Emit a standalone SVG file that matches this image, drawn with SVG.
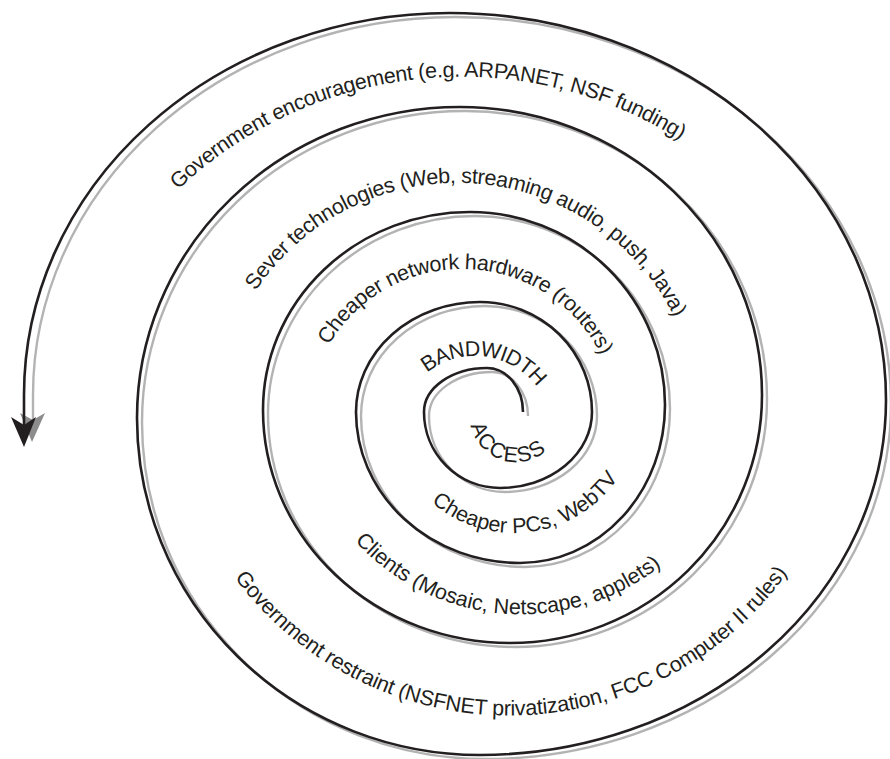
<svg xmlns="http://www.w3.org/2000/svg" xmlns:xlink="http://www.w3.org/1999/xlink" width="890" height="759" viewBox="0 0 890 759">
<style>
.blk{fill:none;stroke:#231f20;stroke-width:2.6;stroke-linecap:butt}
.gry{fill:none;stroke:#b3b3b3;stroke-width:2.4}
.lbl{font-family:"Liberation Sans",Arial,Helvetica,sans-serif;font-size:21.5px;fill:#231f20}
.top{letter-spacing:-0.4px}
</style>
<defs>
<path id="t1" d="M50,488 A411.2,411.2 0 0 1 872.4,488"/>
<path id="t2" d="M215,425.4 A242.5,242.5 0 0 1 700,425.4"/>
<path id="t3" d="M307.2,424 A155,155 0 0 1 617.2,424"/>
<path id="t4" d="M397,434 A78,78 0 0 1 553,434"/>
<path id="t5" d="M469.9,416.1 A46,46 0 0 0 561.9,416.1"/>
<path id="t6" d="M388,407 A126,126 0 0 0 640,407"/>
<path id="t7" d="M295.8,388.8 A225.5,225.5 0 0 0 746.8,388.8"/>
<path id="t8" d="M166.6,372.9 A342.6,342.6 0 0 0 851.8,372.9"/>
</defs>
<g id="connectors">
<path class="gry" transform="translate(5,4)" d="M523,412 A36,44 0 0 0 487,368 A63,44 0 0 0 424,412 A76,76 0 0 0 500,488 A92,76 0 0 0 592,412 A112,110 0 0 0 480,302 A124,110 0 0 0 356,412 A164,151 0 0 0 520,563 A145,158 0 0 0 665,405 A195,193 0 0 0 470,212 A207,198 0 0 0 263,410 A247,233 0 0 0 510,643 A252,248 0 0 0 762,395 A302,288 0 0 0 460,107 A323,311 0 0 0 137,418 A343,337 0 0 0 480,755 A406,355 0 0 0 886,400 A436,387 0 0 0 450,13 A422,378 0 0 0 28,391 L28,416"/>
<polygon points="32,442 20,413 33,420 45,413" fill="#8c8c8c"/>
<path class="blk" d="M523,412 A36,44 0 0 0 487,368 A63,44 0 0 0 424,412 A76,76 0 0 0 500,488 A92,76 0 0 0 592,412 A112,110 0 0 0 480,302 A124,110 0 0 0 356,412 A164,151 0 0 0 520,563 A145,158 0 0 0 665,405 A195,193 0 0 0 470,212 A207,198 0 0 0 263,410 A247,233 0 0 0 510,643 A252,248 0 0 0 762,395 A302,288 0 0 0 460,107 A323,311 0 0 0 137,418 A343,337 0 0 0 480,755 A406,355 0 0 0 886,400 A436,387 0 0 0 450,13 A426,382 0 0 0 24,395 L24,426"/>
<polygon points="24,447 11,417 24,425 36,417" fill="#231f20"/>
</g>
<g id="label-gov-encouragement"><text class="lbl top" text-anchor="middle"><textPath href="#t1" xlink:href="#t1" startOffset="605">Government encouragement (e.g. ARPANET, NSF funding)</textPath></text></g>
<g id="label-server-tech"><text class="lbl top" text-anchor="middle"><textPath href="#t2" xlink:href="#t2" startOffset="396">Sever technologies (Web, streaming audio, push, Java)</textPath></text></g>
<g id="label-network-hw"><text class="lbl top" text-anchor="middle"><textPath href="#t3" xlink:href="#t3" startOffset="249">Cheaper network hardware (routers)</textPath></text></g>
<g id="label-bandwidth"><text class="lbl" text-anchor="middle" letter-spacing="-0.8"><textPath href="#t4" xlink:href="#t4" startOffset="132">BANDWIDTH</textPath></text></g>
<g id="label-access"><text class="lbl" text-anchor="middle" letter-spacing="1.5"><textPath href="#t5" xlink:href="#t5" startOffset="58">ACCESS</textPath></text></g>
<g id="label-cheaper-pcs"><text class="lbl" text-anchor="middle"><textPath href="#t6" xlink:href="#t6" startOffset="214">Cheaper PCs, WebTV</textPath></text></g>
<g id="label-clients"><text class="lbl" text-anchor="middle"><textPath href="#t7" xlink:href="#t7" startOffset="336">Clients (Mosaic, Netscape, applets)</textPath></text></g>
<g id="label-gov-restraint"><text class="lbl" text-anchor="middle" letter-spacing="-0.2"><textPath href="#t8" xlink:href="#t8" startOffset="541">Government restraint (NSFNET privatization, FCC Computer II rules)</textPath></text></g>
</svg>
